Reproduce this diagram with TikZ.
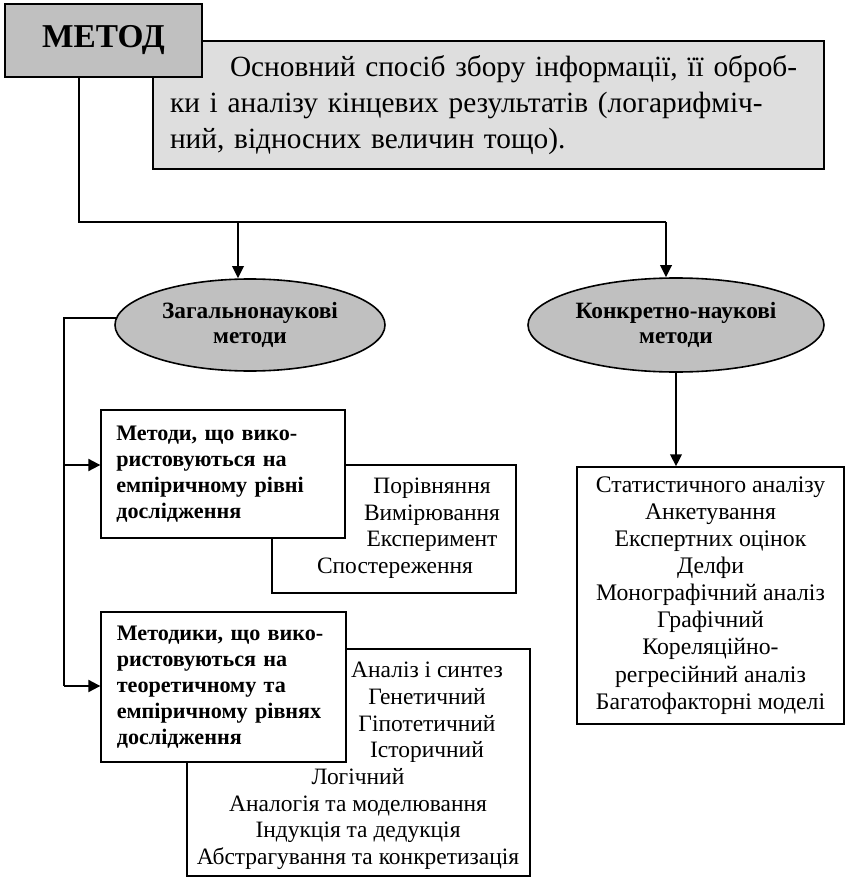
\documentclass[tikz,border=0pt]{standalone}
\usepackage{fontspec}
\setmainfont{Liberation Serif}
\usetikzlibrary{shapes.geometric,arrows.meta,positioning}

\definecolor{headgray}{RGB}{192,192,192}
\definecolor{notegray}{RGB}{222,222,222}
\newcommand{\noteline}[1]{\makebox[477.75pt][s]{#1}}

\tikzset{
  box/.style={draw, line width=1pt, fill=white, inner sep=0pt},
  oval/.style={ellipse, draw, line width=1.2pt, fill=headgray, inner sep=0pt, align=center,
    font=\fontsize{17.5}{19}\selectfont\bfseries},
  group/.style={box, align=left, font=\fontsize{16.6}{19.5}\selectfont\bfseries},
  items/.style={align=center, inner sep=0pt, font=\fontsize{17.6}{19.9}\selectfont},
  link/.style={line width=1pt},
  feed/.style={line width=1.8pt, -{Triangle[length=9pt,width=8.5pt]}},
  hfeed/.style={line width=1.5pt, -{Triangle[length=9pt,width=9pt]}},
}

\begin{document}
\begin{tikzpicture}[x=0.75pt,y=0.75pt,yscale=-1,xscale=1]
\useasboundingbox (0,0) rectangle (845,877);

% definition and title
\node[box, fill=notegray, line width=1.3pt, minimum width=503.25pt, minimum height=96pt,
  text width=477.75pt, align=left, font=\fontsize{22}{27}\selectfont] (note) at (488.5,105)
  {\noteline{\hspace*{45pt}Основний спосіб збору інформації, її оброб-}\\
   \noteline{ки і аналізу кінцевих результатів (логарифміч-}\\
   ний, відносних величин тощо).};
\node[box, fill=headgray, line width=1.5pt, minimum width=147.75pt, minimum height=54.75pt,
  font=\fontsize{25}{30}\selectfont\bfseries] (method) at (103.5,40.5) {\raisebox{4.5pt}{МЕТОД}};

% two kinds of methods
\node[oval, minimum width=202.5pt, minimum height=69pt] (general) at (250,325) {Загальнонаукові\\методи};
\node[oval, minimum width=222pt, minimum height=70.5pt] (specific) at (676,325) {Конкретно-наукові\\методи};

% list boxes (behind)
\node[box, minimum width=183pt, minimum height=96pt] (emplist) at (394,529) {};
\node[box, minimum width=257.25pt, minimum height=170.25pt] (theolist) at (358.5,762.5) {};
\node[items] (empA) at (432,515) {Порівняння\\Вимірювання\\Експеримент};
\node[items] (empB) at (395,568) {Спостереження};
\node[items] (theoA) at (427,712.5) {Аналіз і синтез\\Генетичний\\Гіпотетичний\\Історичний};
\node[items] (theoB) at (358,819) {Логічний\\Аналогія та моделювання\\Індукція та дедукція\\Абстрагування та конкретизація};

% group boxes
\node[group, minimum width=183pt, minimum height=96pt, text width=160pt] (empir) at (223,474)
  {Методи, що вико-\\ристовуються на\\емпіричному рівні\\дослідження};
\node[group, minimum width=183.75pt, minimum height=112.5pt, text width=160pt] (theory) at (223.5,687)
  {Методики, що вико-\\ристовуються на\\теоретичному та\\емпіричному рівнях\\дослідження};

% concrete methods
\node[box, minimum width=200.25pt, minimum height=192.75pt, align=center,
  font=\fontsize{17.8}{20.3}\selectfont] (stats) at (710.5,595.5)
  {Статистичного аналізу\\Анкетування\\Експертних оцінок\\Делфи\\Монографічний аналіз\\Графічний\\Кореляційно-\\регресійний аналіз\\Багатофакторні моделі};

% connectors
\coordinate (fork) at (79,222);
\coordinate (turnA) at (238,222);
\coordinate (turnB) at (666,222);
\coordinate (tapA) at (64,465);
\coordinate (tapB) at (64,686);

\draw[link] (method.south -| fork) -- (fork) -- (turnB);
\draw[feed] (turnA) -- (turnA |- general.north);
\draw[feed] (turnB) -- (turnB |- specific.north);
\draw[link] (general.177) -| (tapB);
\draw[hfeed] (tapA) -- (tapA -| empir.west);
\draw[hfeed] (tapB) -- (tapB -| theory.west);
\draw[feed] (specific.south) -- (specific.south |- stats.north);

\end{tikzpicture}
\end{document}
